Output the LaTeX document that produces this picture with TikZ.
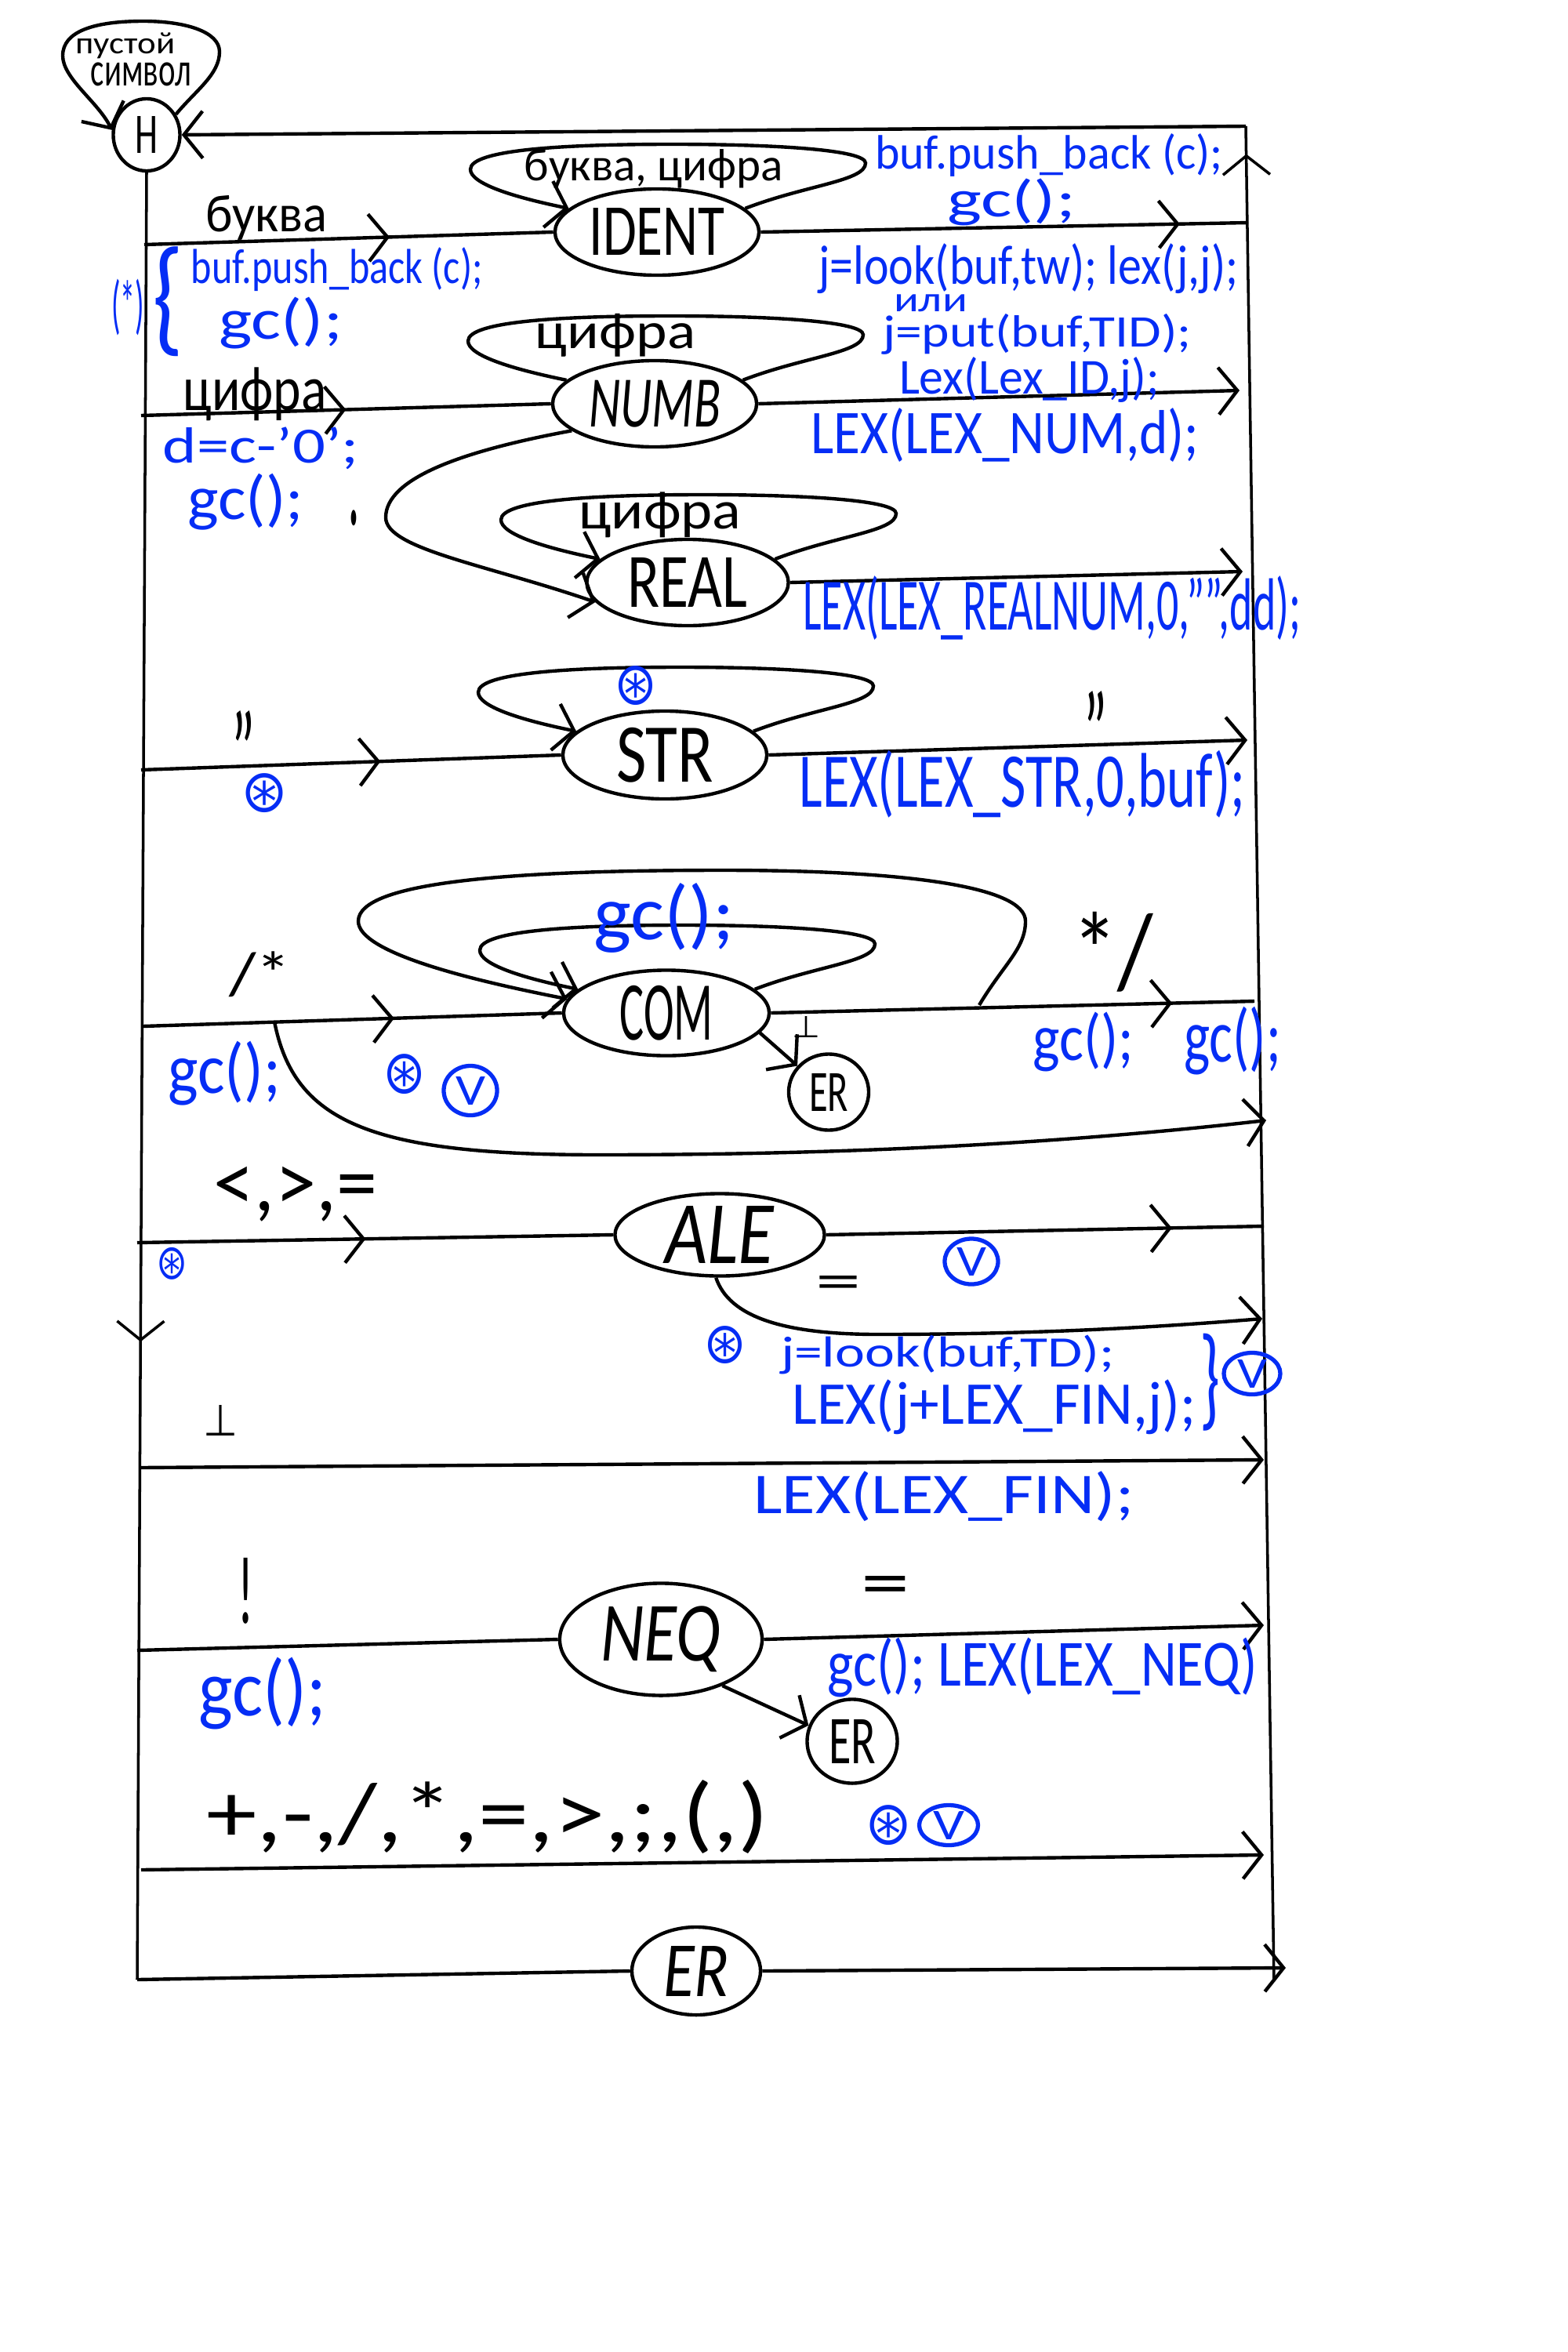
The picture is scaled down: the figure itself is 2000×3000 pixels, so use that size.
\documentclass[tikz,border=0pt]{standalone}
\usepackage{graphicx}
\usepackage{fontspec}
\setmainfont{Carlito}
\newfontfamily\symfont{DejaVu Sans}
\usetikzlibrary{shapes.geometric,arrows.meta,decorations.markings}
\definecolor{handblue}{RGB}{5,45,245}
\newlength{\pxunit}
\setlength{\pxunit}{.01cm}
\newcommand{\fitlabel}[3]{\resizebox*{#1\pxunit}{#2\pxunit}{#3}}
% loop over a state, offsets are from its centre
\newcommand{\selfloop}[2][]{\draw[wire,#1,shift={(#2.center)}] (#2.15) .. controls (190,-60) and (266,-65) .. (266,-88)
  .. controls (266,-105) and (150,-112) .. (20,-112) .. controls (-120,-112) and (-238,-105) .. (-238,-80)
  .. controls (-238,-62) and (-185,-45) .. (#2.165);}

\begin{document}
\begin{tikzpicture}[
  x=.01cm, y=-.01cm,
  >={Straight Barb[length=2.4mm,width=6mm]},
  wire/.style={line width=1.25pt},
  rail/.style={line width=1pt},
  state/.style={ellipse, draw, line width=1.25pt, inner sep=0pt, fill=white},
  lbl/.style={inner sep=0pt},
  code/.style={inner sep=0pt, text=handblue},
  vmark/.style={ellipse, draw=handblue, line width=1.5pt, inner sep=0pt, text=handblue},
  midarrow/.style={postaction=decorate, decoration={markings, mark=at position #1 with {\arrow{>}}}},
]
  \useasboundingbox (0,0) rectangle (2000,3000);

  % states
  \node[state, minimum width=.85cm, minimum height=.92cm] (start) at (187,172) {\fitlabel{29}{47}{H}};
  \node[state, minimum width=2.6cm, minimum height=1.1cm] (ident) at (838,296) {\fitlabel{173}{60}{IDENT}};
  \node[state, minimum width=2.6cm, minimum height=1.1cm] (numb) at (835,515) {\fitlabel{168}{60}{\itshape NUMB}};
  \node[state, minimum width=2.57cm, minimum height=1.1cm] (real) at (877,743) {\fitlabel{153}{63}{REAL}};
  \node[state, minimum width=2.6cm, minimum height=1.12cm] (str) at (848,963) {\fitlabel{124}{70}{STR}};
  \node[state, minimum width=2.62cm, minimum height=1.09cm] (com) at (850,1292) {\fitlabel{119}{70}{COM}};
  \node[state, minimum width=1.02cm, minimum height=.97cm] (comer) at (1057,1393) {\fitlabel{50}{48}{ER}};
  \node[state, minimum width=2.67cm, minimum height=1.05cm] (ale) at (918,1575) {\fitlabel{139}{73}{\itshape ALE}};
  \node[state, minimum width=2.58cm, minimum height=1.43cm] (neq) at (843,2091) {\fitlabel{153}{84}{\itshape NEQ}};
  \node[state, minimum width=1.15cm, minimum height=1.07cm] (neqer) at (1087,2221) {\fitlabel{60}{56}{ER}};
  \node[state, minimum width=1.64cm, minimum height=1.12cm] (er) at (888,2514) {\fitlabel{84}{64}{\itshape ER}};

  % free ends of the lines
  \coordinate (railtop) at (1589,161);
  \coordinate (railbot) at (1625,2527);
  \coordinate (leftbot) at (175,2525);
  \coordinate (identin) at (184,312);
  \coordinate (identout) at (1592,284);
  \coordinate (numbin) at (180,530);
  \coordinate (numbout) at (1581,498);
  \coordinate (realout) at (1585,729);
  \coordinate (strin) at (180,982);
  \coordinate (strout) at (1591,944);
  \coordinate (comin) at (182,1309);
  \coordinate (comout) at (1600,1277);
  \coordinate (comback) at (1249,1282);
  \coordinate (combr) at (350,1303);
  \coordinate (combrout) at (1615,1429);
  \coordinate (alein) at (175,1585);
  \coordinate (aleout) at (1612,1564);
  \coordinate (alebrout) at (1610,1682);
  \coordinate (finin) at (178,1872);
  \coordinate (finout) at (1612,1862);
  \coordinate (neqin) at (175,2105);
  \coordinate (neqout) at (1612,2073);
  \coordinate (opin) at (180,2385);
  \coordinate (opout) at (1612,2366);
  \coordinate (erout) at (1640,2510);

  % rails
  \draw[wire, ->] (railtop) -- (start.east);
  \draw[rail, midarrow=.647] (start.south) -- (leftbot);
  \draw[rail, midarrow=.985] (railbot) -- (railtop);

  % loops
  \draw[wire, ->] (start.35) .. controls (250,115) and (280,95) .. (280,66) .. controls (280,40) and (235,27) .. (183,27)
    .. controls (120,27) and (80,40) .. (80,71) .. controls (80,100) and (125,130) .. (start.172);
  \selfloop[->]{ident}
  \selfloop{numb}
  \selfloop[->]{real}
  \selfloop[->]{str}
  \selfloop[->]{com}

  % transitions
  \draw[wire, midarrow=.6] (identin) -- (ident.west);
  \draw[wire, midarrow=.86] (ident.east) -- (identout);
  \draw[wire, midarrow=.5] (numbin) -- (numb.west);
  \draw[wire, ->] (numb.east) -- (numbout);
  \draw[wire, ->] (numb.198) .. controls (590,575) and (492,610) .. (492,660) .. controls (492,700) and (620,720) .. (real.192);
  \draw[wire, ->] (real.east) -- (realout);
  \draw[wire, midarrow=.57] (strin) -- (str.west);
  \draw[wire, ->] (str.east) -- (strout);
  \draw[wire, midarrow=.6] (comin) -- (com.west);
  \draw[wire, midarrow=.83] (com.east) -- (comout);
  \draw[wire, ->] (comback) .. controls (1280,1230) and (1308,1210) .. (1308,1175) .. controls (1308,1130) and (1150,1110) .. (922,1110)
    .. controls (650,1110) and (457,1125) .. (457,1175) .. controls (457,1215) and (600,1250) .. (com.172);
  \draw[wire, ->] (combr) .. controls (375,1430) and (470,1473) .. (763,1473) .. controls (1000,1473) and (1300,1465) .. (combrout);
  \draw[wire, ->] (com.-12) -- (comer.140);
  \draw[wire, midarrow=.48] (alein) -- (ale.west);
  \draw[wire, midarrow=.79] (ale.east) -- (aleout);
  \draw[wire, ->] (ale.265) .. controls (930,1680) and (1000,1702) .. (1120,1702) .. controls (1300,1702) and (1450,1695) .. (alebrout);
  \draw[wire, ->] (finin) -- (finout);
  \draw[wire] (neqin) -- (neq.west);
  \draw[wire, ->] (neq.east) -- (neqout);
  \draw[wire, ->] (neq.-37) -- (neqer.160);
  \draw[wire, ->] (opin) -- (opout);
  \draw[wire] (leftbot) -- (er.west);
  \draw[wire, ->] (er.east) -- (erout);

  % black labels
  \node[lbl] (emptya) at (160,58) {\fitlabel{127}{33}{пустой}};
  \node[lbl] (emptyb) at (180,95) {\fitlabel{128}{30}{символ}};
  \node[lbl] (letter) at (340,278) {\fitlabel{155}{57}{буква}};
  \node[lbl] (letdig) at (834,215) {\fitlabel{330}{50}{буква, цифра}};
  \node[lbl] (digloop) at (785,428) {\fitlabel{204}{55}{цифра}};
  \node[lbl] (digit) at (325,503) {\fitlabel{183}{68}{цифра}};
  \node[lbl] (digreal) at (842,657) {\fitlabel{207}{58}{цифра}};
  \node[lbl] (point) at (451,661) {\fitlabel{14}{20}{.}};
  \node[lbl] (quotea) at (310,956) {\fitlabel{30}{100}{"}};
  \node[lbl] (quoteb) at (1397,931) {\fitlabel{30}{100}{"}};
  \node[lbl] (comopen) at (332,1243) {\fitlabel{79}{58}{/*}};
  \node[lbl] (comclose) at (1419,1214) {\fitlabel{104}{102}{*/}};
  \node[lbl] (combot) at (1028,1310) {\fitlabel{36}{27}{\symfont ⊥}};
  \node[lbl] (aleops) at (377,1523) {\fitlabel{208}{70}{<,>,=}};
  \node[lbl] (aleeq) at (1069,1642) {\fitlabel{58}{30}{=}};
  \node[lbl] (finbot) at (281,1812) {\fitlabel{44}{39}{\symfont ⊥}};
  \node[lbl] (bang) at (313,2029) {\fitlabel{20}{84}{!}};
  \node[lbl] (neqeq) at (1129,2029) {\fitlabel{62}{38}{=}};
  \node[lbl] (ops) at (622,2317) {\fitlabel{717}{94}{+,-,/,*,=,>,;,(,)}};

  % blue labels
  \node[code] (pushb) at (1338,198) {\fitlabel{444}{55}{buf.push\_back (c);}};
  \node[code] (getb) at (1290,258) {\fitlabel{164}{60}{gc();}};
  \node[code] (mark) at (163,392) {\fitlabel{42}{72}{(*)}};
  \node[code] (brace) at (214,385) {\fitlabel{40}{140}{\{}};
  \node[code] (pusha) at (430,344) {\fitlabel{372}{56}{buf.push\_back (c);}};
  \node[code] (geta) at (358,412) {\fitlabel{158}{66}{gc();}};
  \node[code] (look) at (1312,343) {\fitlabel{535}{64}{j=look(buf,tw); lex(j,j);}};
  \node[code] (orword) at (1187,387) {\fitlabel{94}{22}{или}};
  \node[code] (putid) at (1323,426) {\fitlabel{394}{52}{j=put(buf,TID);}};
  \node[code] (lexid) at (1313,485) {\fitlabel{332}{58}{Lex(Lex\_ID,j);}};
  \node[code] (lexnum) at (1282,555) {\fitlabel{495}{69}{LEX(LEX\_NUM,d);}};
  \node[code] (dval) at (333,572) {\fitlabel{250}{54}{d=c-'0';}};
  \node[code] (getc) at (313,640) {\fitlabel{148}{72}{gc();}};
  \node[code] (lexreal) at (1342,776) {\fitlabel{635}{82}{LEX(LEX\_REALNUM,0,"",dd);}};
  \node[code] (lexstr) at (1304,1000) {\fitlabel{569}{86}{LEX(LEX\_STR,0,buf);}};
  \node[code] (getcom) at (847,1171) {\fitlabel{179}{89}{gc();}};
  \node[code] (getd) at (286,1369) {\fitlabel{144}{82}{gc();}};
  \node[code] (gete) at (1382,1329) {\fitlabel{129}{76}{gc();}};
  \node[code] (getf) at (1572,1328) {\fitlabel{124}{87}{gc();}};
  \node[code] (lookd) at (1209,1728) {\fitlabel{426}{50}{j=look(buf,TD);}};
  \node[code] (lexfinj) at (1268,1795) {\fitlabel{515}{70}{LEX(j+LEX\_FIN,j);}};
  \node[code] (closeb) at (1543,1763) {\fitlabel{26}{124}{\}}};
  \node[code] (lexfin) at (1204,1909) {\fitlabel{485}{64}{LEX(LEX\_FIN);}};
  \node[code] (getg) at (335,2160) {\fitlabel{163}{92}{gc();}};
  \node[code] (lexneq) at (1330,2127) {\fitlabel{549}{76}{gc(); LEX(LEX\_NEQ)}};

  % circled marks
  \foreach \name/\px/\py/\w/\h in {stara/337/1012/60/50, starb/811/875/55/50, starc/516/1370/55/51,
      stard/219/1612/40/41, stare/925/1716/55/48, starf/1133/2328/60/51}
    \node[code] (\name) at (\px,\py) {\fitlabel{\w}{\h}{\symfont ⊛}};
  \node[vmark, minimum width=.68cm, minimum height=.63cm] (checka) at (600,1391) {\fitlabel{38}{36}{V}};
  \node[vmark, minimum width=.68cm, minimum height=.58cm] (checkb) at (1239,1609) {\fitlabel{38}{36}{V}};
  \node[vmark, minimum width=.72cm, minimum height=.53cm] (checkc) at (1597,1752) {\fitlabel{38}{36}{V}};
  \node[vmark, minimum width=.75cm, minimum height=.51cm] (checkd) at (1210,2328) {\fitlabel{40}{36}{V}};
\end{tikzpicture}
\end{document}
